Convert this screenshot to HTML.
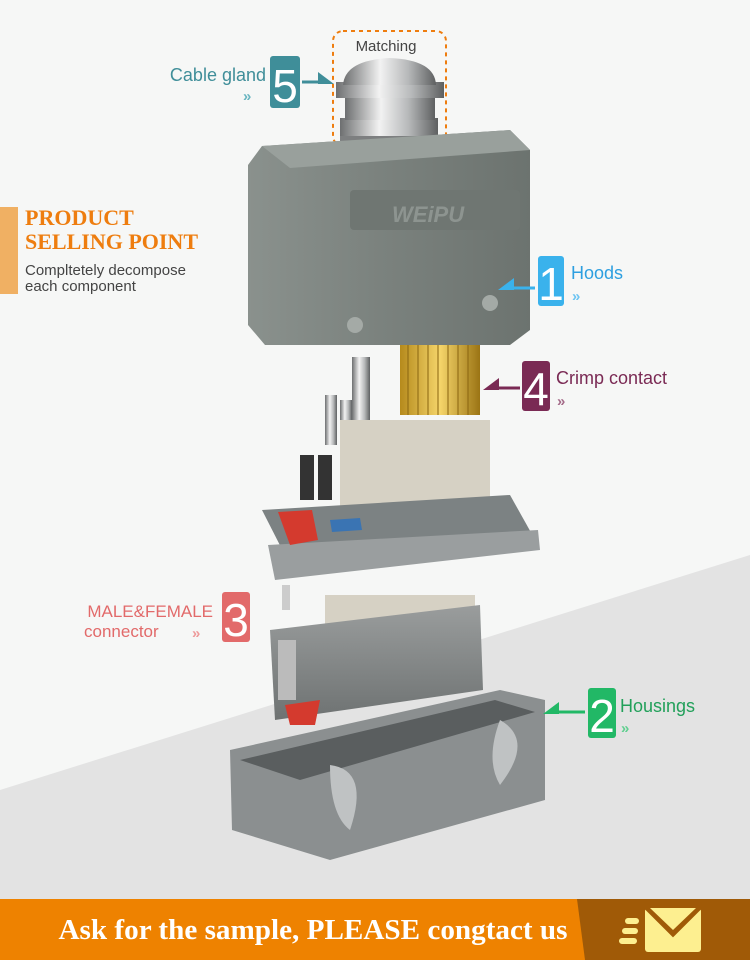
<!DOCTYPE html>
<html><head><meta charset="utf-8"><style>
body{margin:0;width:750px;height:960px;overflow:hidden;font-family:"Liberation Sans",sans-serif;}
</style></head><body>
<svg width="750" height="960" viewBox="0 0 750 960" xmlns="http://www.w3.org/2000/svg">
<defs>
<linearGradient id="hood" x1="0" y1="0" x2="1" y2="0"><stop offset="0" stop-color="#8a918d"/><stop offset=".5" stop-color="#7a817d"/><stop offset="1" stop-color="#6c736f"/></linearGradient>
<linearGradient id="metal" x1="0" y1="0" x2="1" y2="0"><stop offset="0" stop-color="#6d6f70"/><stop offset=".4" stop-color="#f2f2f2"/><stop offset=".7" stop-color="#b7b9ba"/><stop offset="1" stop-color="#5e6061"/></linearGradient>
<linearGradient id="gold" x1="0" y1="0" x2="1" y2="0"><stop offset="0" stop-color="#b58a1c"/><stop offset=".5" stop-color="#f5d56a"/><stop offset="1" stop-color="#9b7414"/></linearGradient>
<linearGradient id="house" x1="0" y1="0" x2="0" y2="1"><stop offset="0" stop-color="#9a9d9d"/><stop offset="1" stop-color="#6e7272"/></linearGradient>
</defs>
<rect width="750" height="960" fill="#f6f7f6"/>
<polygon points="0,790 750,555 750,900 0,900" fill="#e3e3e3"/>
<rect x="0" y="207" width="18" height="87" fill="#f0b063"/>
<text x="25" y="225" font-family="Liberation Serif" font-weight="bold" font-size="22" fill="#ee7d0f">PRODUCT</text>
<text x="25" y="249" font-family="Liberation Serif" font-weight="bold" font-size="22" fill="#ee7d0f">SELLING POINT</text>
<text x="25" y="275" font-size="15" fill="#444">Compltetely decompose</text>
<text x="25" y="291" font-size="15" fill="#444">each component</text>
<rect x="333" y="31" width="113" height="115" rx="10" fill="none" stroke="#ee7d0f" stroke-width="2" stroke-dasharray="4,4"/>
<text x="386" y="51" font-size="15" fill="#444" text-anchor="middle">Matching</text>
<rect x="340" y="135" width="100" height="12" fill="#7d7f80"/>
<rect x="340" y="118" width="98" height="18" fill="url(#metal)"/>
<rect x="345" y="95" width="90" height="25" fill="url(#metal)"/>
<rect x="336" y="82" width="108" height="16" fill="url(#metal)"/>
<path d="M343,85 Q345,60 390,58 Q435,60 436,85 Z" fill="url(#metal)"/>
<path d="M262,146 L510,130 L530,150 L530,330 L510,345 L265,345 L248,325 L248,165 Z" fill="url(#hood)"/>
<path d="M262,146 L510,130 L530,150 L290,168 Z" fill="#99a09c"/>
<rect x="350" y="190" width="170" height="40" fill="#6f7672" rx="4"/>
<text x="392" y="222" font-size="22" font-style="italic" font-weight="bold" fill="#8d9490">WEiPU</text>
<circle cx="355" cy="325" r="8" fill="#a4aaa6"/><circle cx="490" cy="303" r="8" fill="#a4aaa6"/>
<rect x="400" y="345" width="80" height="70" fill="url(#gold)"/>
<g stroke="#8a6510" stroke-width="1"><line x1="408" y1="345" x2="408" y2="415"/><line x1="418" y1="345" x2="418" y2="415"/><line x1="428" y1="345" x2="428" y2="415"/><line x1="438" y1="345" x2="438" y2="415"/><line x1="448" y1="345" x2="448" y2="415"/><line x1="458" y1="345" x2="458" y2="415"/><line x1="468" y1="345" x2="468" y2="415"/></g>
<rect x="352" y="357" width="18" height="80" fill="url(#metal)"/>
<rect x="325" y="395" width="12" height="50" fill="url(#metal)"/>
<rect x="340" y="400" width="12" height="50" fill="url(#metal)"/>
<rect x="340" y="420" width="150" height="100" fill="#d6d1c4"/>
<rect x="300" y="455" width="14" height="45" fill="#333"/><rect x="318" y="455" width="14" height="45" fill="#333"/>
<polygon points="262,510 510,495 538,545 290,565" fill="#7c8283"/>
<polygon points="268,545 538,530 540,550 275,580" fill="#9a9e9f"/>
<polygon points="278,512 312,510 318,540 290,545" fill="#d43a2e"/>
<polygon points="330,520 360,518 362,530 332,532" fill="#3a74b3"/>
<rect x="282" y="585" width="8" height="25" fill="#ccc"/>
<rect x="325" y="595" width="150" height="45" fill="#d6d1c4"/>
<polygon points="270,630 480,605 483,690 275,720" fill="url(#house)"/>
<rect x="278" y="640" width="18" height="60" fill="#bbb"/>
<polygon points="285,705 320,700 315,725 290,725" fill="#d43a2e"/>
<polygon points="230,750 500,690 545,700 545,800 330,860 232,830" fill="#8b8f90"/>
<polygon points="240,760 495,700 535,712 300,780" fill="#5a5e5f"/>
<path d="M330,765 Q370,770 350,830 Q330,815 330,765Z" fill="#bfc2c3"/>
<path d="M500,720 Q535,740 500,785 Q485,760 500,720Z" fill="#bfc2c3"/>
<text x="266" y="81" font-size="18" fill="#3f8e99" text-anchor="end">Cable gland</text>
<text x="243" y="101" font-size="15" font-weight="bold" fill="#68b5c0">»</text>
<rect x="270" y="56" width="30" height="52" rx="3" fill="#3f8e99"/>
<text x="285" y="102" font-size="46" fill="#fff" text-anchor="middle">5</text>
<line x1="302" y1="82" x2="322" y2="82" stroke="#3f8e99" stroke-width="3"/>
<polygon points="318,72 334,84 318,84" fill="#3f8e99"/>
<rect x="538" y="256" width="26" height="50" rx="3" fill="#3ab2ec"/>
<text x="551" y="300" font-size="46" fill="#fff" text-anchor="middle">1</text>
<line x1="510" y1="288" x2="535" y2="288" stroke="#3ab2ec" stroke-width="3"/>
<polygon points="514,278 498,290 514,290" fill="#3ab2ec"/>
<text x="571" y="279" font-size="18" fill="#2d9fe0">Hoods</text>
<text x="572" y="301" font-size="15" font-weight="bold" fill="#6cc4f2">»</text>
<rect x="522" y="361" width="28" height="50" rx="3" fill="#7a2a54"/>
<text x="536" y="405" font-size="46" fill="#fff" text-anchor="middle">4</text>
<line x1="495" y1="388" x2="520" y2="388" stroke="#7a2a54" stroke-width="3"/>
<polygon points="499,378 483,390 499,390" fill="#7a2a54"/>
<text x="556" y="384" font-size="18" fill="#7a2a54">Crimp contact</text>
<text x="557" y="406" font-size="15" font-weight="bold" fill="#a46a88">»</text>
<rect x="222" y="592" width="28" height="50" rx="3" fill="#e26a6a"/>
<text x="236" y="636" font-size="46" fill="#fff" text-anchor="middle">3</text>
<text x="213" y="617" font-size="17" fill="#e26a6a" text-anchor="end">MALE&amp;FEMALE</text>
<text x="84" y="637" font-size="17" fill="#e26a6a">connector</text>
<text x="192" y="638" font-size="15" font-weight="bold" fill="#ee9a9a">»</text>
<rect x="588" y="688" width="28" height="50" rx="3" fill="#22b866"/>
<text x="602" y="732" font-size="46" fill="#fff" text-anchor="middle">2</text>
<line x1="555" y1="712" x2="585" y2="712" stroke="#22b866" stroke-width="3"/>
<polygon points="559,702 543,714 559,714" fill="#22b866"/>
<text x="620" y="712" font-size="18" fill="#22a05a">Housings</text>
<text x="621" y="733" font-size="15" font-weight="bold" fill="#5fcf8f">»</text>
<rect x="0" y="899" width="750" height="61" fill="#ee8200"/>
<polygon points="577,899 750,899 750,960 585,960" fill="#a05a07"/>
<text x="313" y="939" font-family="Liberation Serif" font-weight="bold" font-size="29" fill="#fff" text-anchor="middle" textLength="509" lengthAdjust="spacingAndGlyphs">Ask for the sample, PLEASE congtact us</text>
<rect x="645" y="908" width="56" height="44" rx="3" fill="#fdef90"/>
<polyline points="645,908 673,936 701,908" fill="#a05a07" stroke="#a05a07" stroke-width="2"/>
<polyline points="650,908 673,930 696,908" fill="#fdef90"/>
<rect x="625" y="918" width="14" height="6" rx="3" fill="#fdef90"/>
<rect x="622" y="928" width="16" height="6" rx="3" fill="#fdef90"/>
<rect x="619" y="938" width="18" height="6" rx="3" fill="#fdef90"/>
</svg>
</body></html>
